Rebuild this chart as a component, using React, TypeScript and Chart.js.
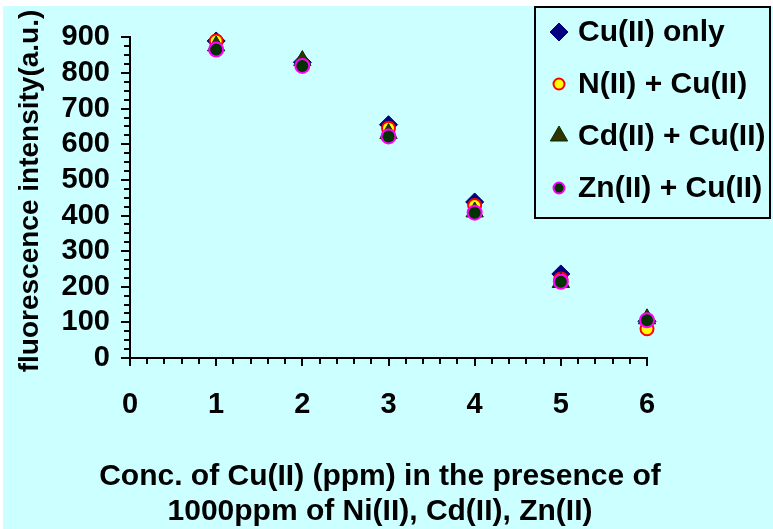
import React, { useEffect, useRef } from 'react';
import { Chart, registerables } from 'chart.js';
import { drawPoint } from 'chart.js/helpers';

Chart.register(...registerables);

// ---------- data ----------
const concentrations = [1, 2, 3, 4, 5, 6];
const cuOnly = [890, 830, 655, 438, 236, 103];
const niCu = [890, 826, 645, 428, 222, 82];
const cdCu = [876, 835, 630, 410, 212, 110];
const znCu = [866, 820, 622, 408, 214, 106];
const seriesNames = ['Cu(II) only', 'N(II) + Cu(II)', 'Cd(II) + Cu(II)', 'Zn(II) + Cu(II)'];
const xTitleLines = ['Conc. of Cu(II) (ppm) in the presence of', '1000ppm of Ni(II), Cd(II), Zn(II)'];
const yTitle = 'fluorescence intensity(a.u.)';
const xMin = 0, xMax = 6, xStep = 1, xMinorStep = 0.2;
const yMin = 0, yMax = 900, yStep = 100, yMinorStep = 25;

const FONT = '"Liberation Sans", Arial, sans-serif';
const CYAN = '#CCFFFF';

const styles = [
  { pointStyle: 'rectRot', radius: 9, backgroundColor: '#000080', borderColor: '#000080', borderWidth: 1, legendRadius: 9 },
  { pointStyle: 'circle', radius: 6.5, backgroundColor: '#FFFF00', borderColor: '#FF0000', borderWidth: 2, legendRadius: 5.5 },
  { pointStyle: 'triangle', radius: 10, backgroundColor: '#333300', borderColor: '#003300', borderWidth: 1, legendRadius: 10 },
  { pointStyle: 'circle', radius: 7, backgroundColor: '#003300', borderColor: '#FF00FF', borderWidth: 2, legendRadius: 5.5 },
];

const seriesValues = [cuOnly, niCu, cdCu, znCu];

const backgroundPlugin = {
  id: 'bg',
  beforeDraw(chart: any) {
    const { ctx, width, height } = chart;
    ctx.save();
    ctx.fillStyle = '#FFFFFF';
    ctx.fillRect(0, 0, width, height);
    ctx.fillStyle = CYAN;
    ctx.fillRect(3, 6, width - 3, height - 6);
    ctx.restore();
  },
};

const decorPlugin = {
  id: 'decor',
  afterDraw(chart: any) {
    const { ctx } = chart;
    const xs = chart.scales.x;
    const ys = chart.scales.y;
    const area = chart.chartArea;
    ctx.save();
    ctx.strokeStyle = '#000';
    ctx.lineWidth = 2;
    // y ticks
    for (let v = yMin; v <= yMax + 1e-9; v += yMinorStep) {
      const py = Math.round(ys.getPixelForValue(v));
      const len = Math.abs(v % yStep) < 1e-9 ? 9 : 6;
      ctx.beginPath();
      ctx.moveTo(area.left - len, py);
      ctx.lineTo(area.left, py);
      ctx.stroke();
    }
    // x ticks
    for (let i = 0; i <= Math.round((xMax - xMin) / xMinorStep); i++) {
      const v = xMin + i * xMinorStep;
      const px = Math.round(xs.getPixelForValue(v));
      const major = Math.abs(v - Math.round(v / xStep) * xStep) < 1e-6;
      const len = major ? 8 : 6;
      ctx.beginPath();
      ctx.moveTo(px, area.bottom);
      ctx.lineTo(px, area.bottom + len);
      ctx.stroke();
    }
    // axis titles
    ctx.fillStyle = '#000';
    ctx.font = `bold 28px ${FONT}`;
    ctx.textAlign = 'center';
    ctx.textBaseline = 'middle';
    ctx.save();
    ctx.translate(30, 191);
    ctx.rotate(-Math.PI / 2);
    ctx.fillText(yTitle, 0, 0);
    ctx.restore();
    ctx.font = `bold 30px ${FONT}`;
    ctx.fillText(xTitleLines[0], 380, 477);
    ctx.fillText(xTitleLines[1], 380, 512);

    // legend
    ctx.fillStyle = CYAN;
    ctx.fillRect(535, 7, 235, 211);
    ctx.strokeStyle = '#000';
    ctx.lineWidth = 2;
    ctx.strokeRect(535, 7, 235, 211);
    ctx.font = `bold 30px ${FONT}`;
    ctx.textAlign = 'left';
    ctx.textBaseline = 'middle';
    seriesNames.forEach((name, i) => {
      const st = styles[i];
      const cy = 32 + 52 * i;
      ctx.fillStyle = st.backgroundColor;
      ctx.strokeStyle = st.borderColor;
      ctx.lineWidth = st.borderWidth;
      drawPoint(ctx, { pointStyle: st.pointStyle, radius: st.legendRadius, rotation: 0, borderWidth: st.borderWidth } as any, 559, cy);
      ctx.fillStyle = '#000';
      ctx.fillText(name, 578, cy + 1);
    });
    ctx.restore();
  },
};

export default function App() {
  const ref = useRef<HTMLCanvasElement | null>(null);
  useEffect(() => {
    if (!ref.current) return;
    const datasets = seriesNames.map((name, i) => ({
      label: name,
      data: concentrations.map((c, j) => ({ x: c, y: seriesValues[i][j] })),
      pointStyle: styles[i].pointStyle,
      pointRadius: styles[i].radius,
      pointBackgroundColor: styles[i].backgroundColor,
      pointBorderColor: styles[i].borderColor,
      pointBorderWidth: styles[i].borderWidth,
      showLine: false,
      clip: false,
      order: 4 - i,
    }));
    const chart = new Chart(ref.current, {
      type: 'scatter',
      data: { datasets } as any,
      options: {
        responsive: false,
        animation: false,
        layout: { padding: { left: 0, top: 33, right: 126, bottom: 0 } },
        plugins: { legend: { display: false }, tooltip: { enabled: false } },
        scales: {
          x: {
            type: 'linear',
            min: xMin,
            max: xMax,
            grid: { display: false, drawTicks: false },
            border: { display: true, color: '#000', width: 2 },
            ticks: { stepSize: xStep, autoSkip: false, color: '#000', padding: 30, font: { family: FONT, size: 29, weight: 'bold' } },
            afterFit: (s: any) => { s.height = 171; },
          },
          y: {
            type: 'linear',
            min: yMin,
            max: yMax,
            grid: { display: false, drawTicks: false },
            border: { display: true, color: '#000', width: 2 },
            ticks: { stepSize: yStep, autoSkip: false, color: '#000', padding: 20, font: { family: FONT, size: 29, weight: 'bold' } },
            afterFit: (s: any) => { s.width = 130; },
          },
        },
      } as any,
      plugins: [backgroundPlugin, decorPlugin],
    });
    return () => chart.destroy();
  }, []);
  return (
    <div style={{ position: 'absolute', left: 0, top: 0, width: 773, height: 529 }}>
      <canvas ref={ref} width={773} height={529} style={{ display: 'block', width: 773, height: 529 }} />
    </div>
  );
}
